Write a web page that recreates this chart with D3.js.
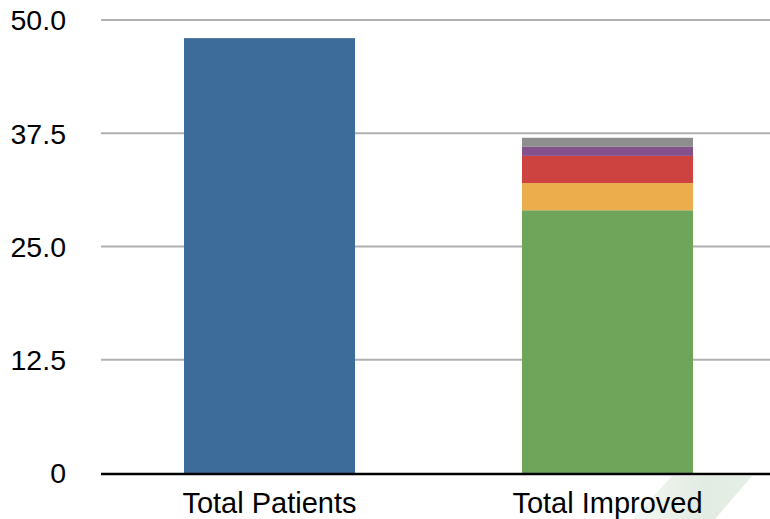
<!DOCTYPE html>
<html>
<head>
<meta charset="utf-8">
<script src="https://cdn.jsdelivr.net/npm/d3@7"></script>
<style>
  body { margin: 0; background: #fff; }
  text { font-family: "Liberation Sans", Arial, sans-serif; fill: #000; }
</style>
</head>
<body>
<div id="chart"></div>
<script>
// chart data
var categories = ["Total Patients", "Total Improved"];
var seriesKeys = ["patients", "improvedA", "improvedB", "improvedC", "improvedD", "improvedE"];
var patientsValues = [48, 0];
var improvedAValues = [0, 29];
var improvedBValues = [0, 3];
var improvedCValues = [0, 3];
var improvedDValues = [0, 1];
var improvedEValues = [0, 1];
var yTicks = [0, 12.5, 25, 37.5, 50];
var yTickLabels = ["0", "12.5", "25.0", "37.5", "50.0"];

var seriesColors = {
  patients: "#3d6c9b",
  improvedA: "#6ea55a",
  improvedB: "#ecae4c",
  improvedC: "#cc4340",
  improvedD: "#84518d",
  improvedE: "#8e8e8e"
};

var svgWidth = 770;
var svgHeight = 519;

var rows = categories.map(function(c, i) {
  return {
    cat: c,
    patients: patientsValues[i],
    improvedA: improvedAValues[i],
    improvedB: improvedBValues[i],
    improvedC: improvedCValues[i],
    improvedD: improvedDValues[i],
    improvedE: improvedEValues[i]
  };
});

var svg = d3.select("#chart")
  .append("svg")
  .attr("width", svgWidth)
  .attr("height", svgHeight);

var xScale = d3.scaleBand()
  .domain(categories)
  .range([100.5, 776.5])
  .paddingInner(0.494)
  .paddingOuter(0.247);

var yScale = d3.scaleLinear()
  .domain([0, 50])
  .range([473, 20]);

// faint watermark shape, bottom right
var grad = svg.append("defs").append("linearGradient")
  .attr("id", "wm")
  .attr("x1", 0).attr("y1", 0).attr("x2", 1).attr("y2", 0);
grad.append("stop").attr("offset", "0%").attr("stop-color", "#f3f7f3");
grad.append("stop").attr("offset", "60%").attr("stop-color", "#e2ece2");
grad.append("stop").attr("offset", "100%").attr("stop-color", "#e6efe6");

svg.append("polygon")
  .attr("points", "672,476 752,476 715,519 632,519")
  .attr("fill", "url(#wm)");

// gridlines
svg.append("g")
  .selectAll("line")
  .data(yTicks.slice(1))
  .enter()
  .append("line")
  .attr("x1", 101)
  .attr("x2", svgWidth)
  .attr("y1", d => yScale(d))
  .attr("y2", d => yScale(d))
  .attr("stroke", "#b0b0b0")
  .attr("stroke-width", 2);

// y tick labels
svg.append("g")
  .selectAll("text")
  .data(yTicks)
  .enter()
  .append("text")
  .attr("x", 66)
  .attr("y", d => yScale(d))
  .attr("dy", "0.36em")
  .attr("text-anchor", "end")
  .style("font-size", "28.5px")
  .text((d, i) => yTickLabels[i]);

// stacked bars
var stacked = d3.stack().keys(seriesKeys)(rows);

svg.append("g")
  .selectAll("g")
  .data(stacked)
  .enter()
  .append("g")
  .attr("fill", d => seriesColors[d.key])
  .selectAll("rect")
  .data(d => d.filter(s => s[1] - s[0] > 0))
  .enter()
  .append("rect")
  .attr("x", d => xScale(d.data.cat))
  .attr("width", xScale.bandwidth())
  .attr("y", d => yScale(d[1]))
  .attr("height", d => yScale(d[0]) - yScale(d[1]));

// baseline
svg.append("line")
  .attr("x1", 101)
  .attr("x2", svgWidth)
  .attr("y1", yScale(0) + 1)
  .attr("y2", yScale(0) + 1)
  .attr("stroke", "#000")
  .attr("stroke-width", 2.5);

// category labels
svg.append("g")
  .selectAll("text")
  .data(categories)
  .enter()
  .append("text")
  .attr("x", d => xScale(d) + xScale.bandwidth() / 2)
  .attr("y", 513)
  .attr("text-anchor", "middle")
  .style("font-size", "29px")
  .text(d => d);
</script>
</body>
</html>
